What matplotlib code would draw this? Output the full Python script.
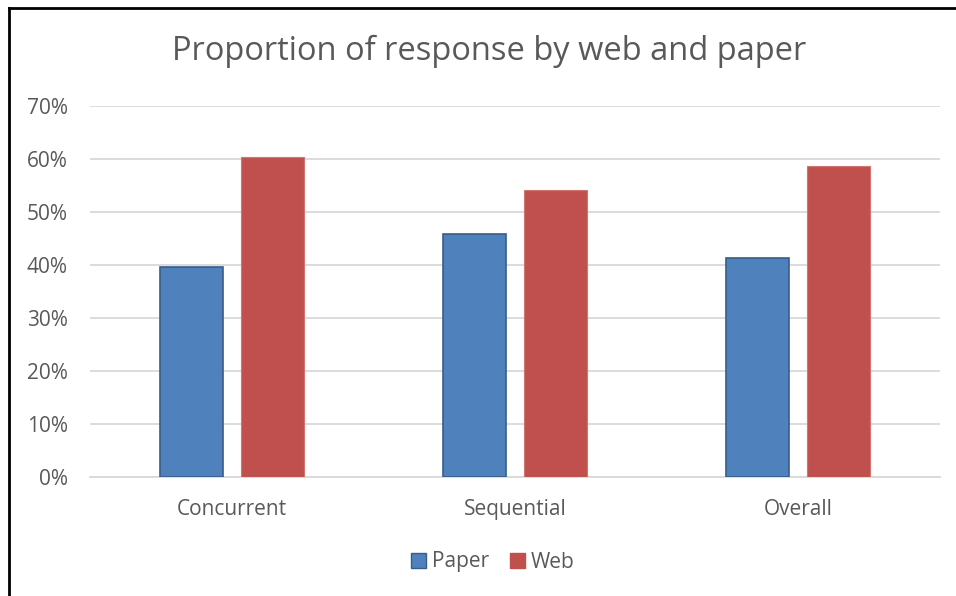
import matplotlib.pyplot as plt
import numpy as np
from matplotlib.lines import Line2D
from matplotlib.patches import Patch

categories = ['Concurrent', 'Sequential', 'Overall']
paper = [39.7, 45.8, 41.3]
web = [60.3, 54.2, 58.7]
y_ticks = [0, 10, 20, 30, 40, 50, 60, 70]

def main():
	plt.rcParams['font.family'] = ['Open Sans', 'DejaVu Sans']
	text_col = '#595959'

	fig = plt.figure(figsize = (9.56, 5.96), dpi = 100)
	ax = fig.add_axes([90/956, 1-477/596, 850/956, 371/596])

	x = np.arange(len(categories))
	w = 0.222
	off = 0.143
	ax.bar(x - off, paper, w, color = '#4F81BD', edgecolor = '#385D8A', linewidth = 1.2, zorder = 3)
	ax.bar(x + off, web, w, color = '#C0504D', edgecolor = '#D07572', linewidth = 0.8, zorder = 3)

	ax.set_xlim(-0.5, 2.5)
	ax.set_ylim(0, 70)
	ax.set_yticks(y_ticks)
	ax.set_yticklabels([str(t) + '%' for t in y_ticks])
	ax.set_xticks(x)
	ax.set_xticklabels(categories)
	ax.tick_params(length = 0, labelsize = 15, colors = text_col)
	ax.tick_params(axis = 'y', pad = 16)
	ax.tick_params(axis = 'x', pad = 16)
	ax.grid(axis = 'y', color = '#D9D9D9', linewidth = 1.3, zorder = 0)
	for s in ['top', 'right', 'left']:
		ax.spines[s].set_visible(False)
	ax.spines['bottom'].set_color('#D9D9D9')
	ax.spines['bottom'].set_linewidth(1.3)

	fig.text(489/956, 1-51/596, 'Proportion of response by web and paper', ha = 'center', va = 'center', fontsize = 23.5, color = text_col)

	handles = [Patch(facecolor = '#4F81BD', edgecolor = '#385D8A', label = 'Paper'),
		Patch(facecolor = '#C0504D', edgecolor = '#C0504D', label = 'Web')]
	fig.legend(handles = handles, loc = 'center', bbox_to_anchor = (493/956, 1-562/596), ncol = 2, frameon = False,
		fontsize = 15, labelcolor = text_col, handlelength = 0.7, handleheight = 0.7, handletextpad = 0.3, columnspacing = 1.0)

	# border lines (top and left only, as in the screenshot)
	fig.add_artist(Line2D([8.5/956, 1], [1-7.5/596, 1-7.5/596], color = 'black', linewidth = 2, transform = fig.transFigure))
	fig.add_artist(Line2D([8.5/956, 8.5/956], [0, 1-7.5/596], color = 'black', linewidth = 2, transform = fig.transFigure))

	fig.savefig('out.png', dpi = 100)

if __name__ == "__main__":
	main()
